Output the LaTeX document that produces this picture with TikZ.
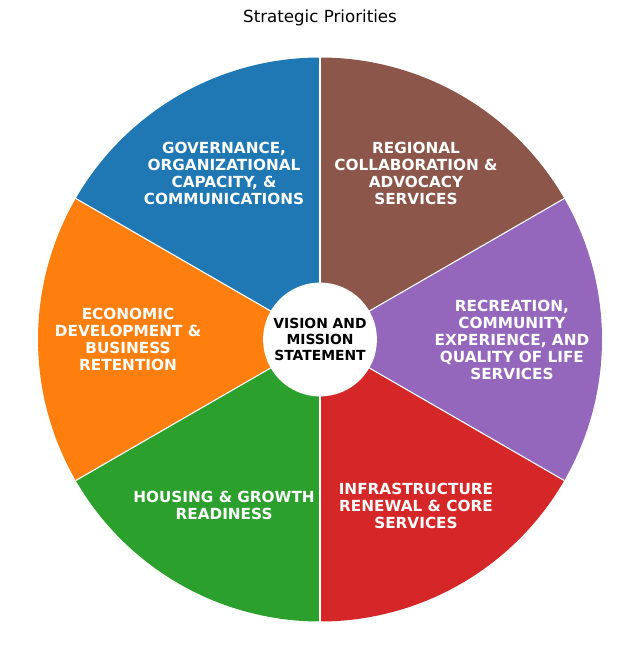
\documentclass[tikz,border=0pt]{standalone}
\usepackage{fontspec}
\setmainfont{DejaVu Sans}
\usetikzlibrary{calc}
\definecolor{tabblue}{HTML}{1F77B4}
\definecolor{taborange}{HTML}{FF7F0E}
\definecolor{tabgreen}{HTML}{2CA02C}
\definecolor{tabred}{HTML}{D62728}
\definecolor{tabpurple}{HTML}{9467BD}
\definecolor{tabbrown}{HTML}{8C564B}
\tikzset{
  wedge/.style={draw=white, line width=0.8pt},
  lbl/.style={text=white, font=\bfseries\fontsize{11}{12.24}\selectfont, align=center},
  ctr/.style={font=\bfseries\fontsize{10}{11.5}\selectfont, align=center, text=black},
}
\begin{document}
\begin{tikzpicture}[x=0.72pt, y=-0.72pt]
\useasboundingbox[fill=white] (0,0) rectangle (640,658);
\coordinate (c) at (320,339.5);
\def\R{203.04pt}
\foreach \a/\col in {90/tabblue,150/taborange,210/tabgreen,270/tabred,330/tabpurple,30/tabbrown}{
  \fill[\col] (c) -- ++(\a:\R) arc[start angle=\a, delta angle=60, radius=\R] -- cycle;
}
\foreach \a in {90,150,210,270,330,30}{
  \draw[wedge] (c) -- ++(\a:\R);
}
\node[circle, fill=white, minimum size=82pt, inner sep=0pt] (hole) at (c) {};
\node[ctr] (center) at (c) {VISION AND\\MISSION\\STATEMENT};
\node[lbl] (gov) at ($(c)+(120:138.2pt)$) {GOVERNANCE,\\ORGANIZATIONAL\\CAPACITY, \&\\COMMUNICATIONS};
\node[lbl] (eco) at ($(c)+(180:138.2pt)$) {ECONOMIC\\DEVELOPMENT \&\\BUSINESS\\RETENTION};
\node[lbl] (hou) at ($(c)+(240:138.2pt)$) {HOUSING \& GROWTH\\READINESS};
\node[lbl] (inf) at ($(c)+(300:138.2pt)$) {INFRASTRUCTURE\\RENEWAL \& CORE\\SERVICES};
\node[lbl] (rec) at ($(c)+(0:138.2pt)$) {RECREATION,\\COMMUNITY\\EXPERIENCE, AND\\QUALITY OF LIFE\\SERVICES};
\node[lbl] (reg) at ($(c)+(60:138.2pt)$) {REGIONAL\\COLLABORATION \&\\ADVOCACY\\SERVICES};
\node[font=\fontsize{12}{14}\selectfont] (title) at (320,18) {Strategic Priorities};
\end{tikzpicture}
\end{document}
